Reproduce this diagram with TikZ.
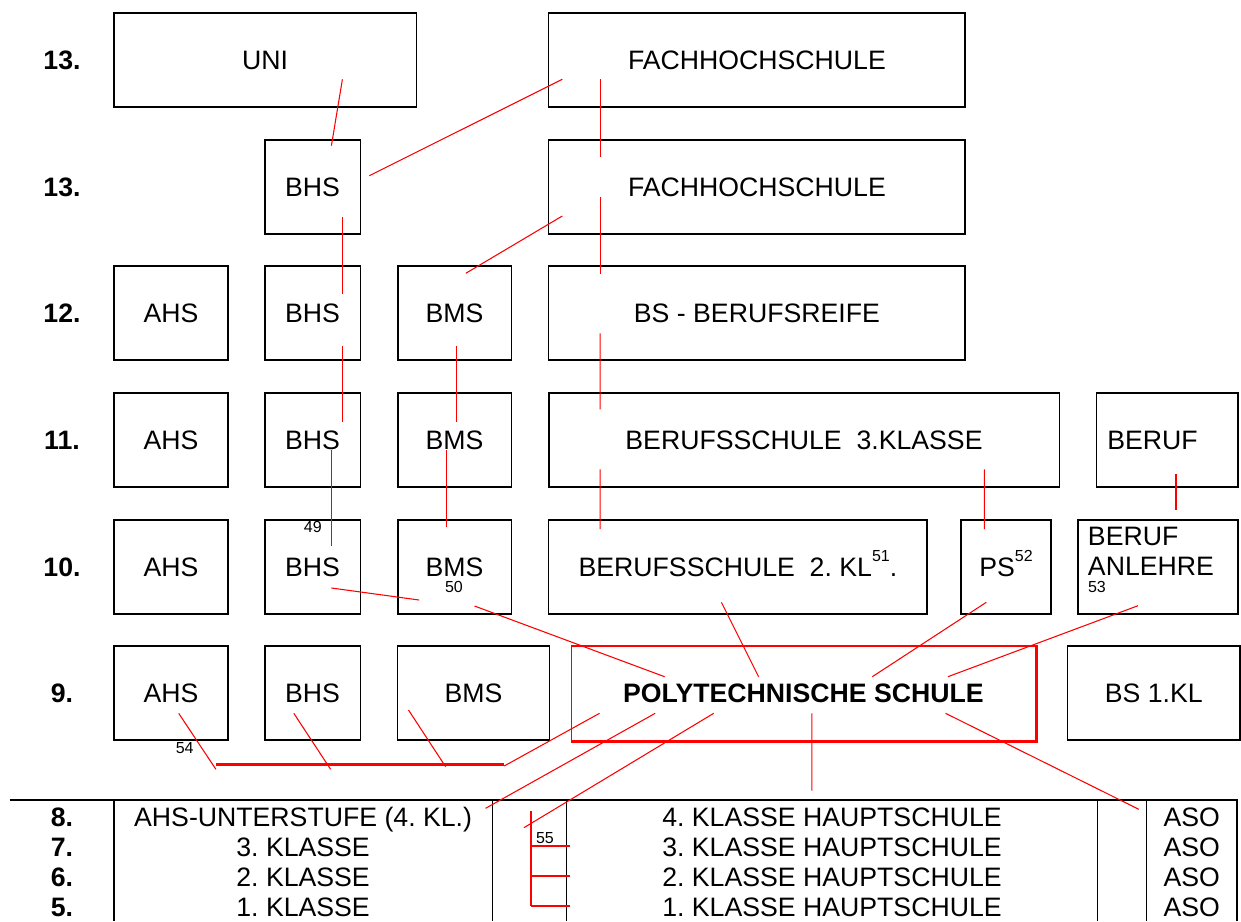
\documentclass[tikz,border=0pt]{standalone}
\usepackage{fontspec}
\setmainfont{Liberation Sans}
\newcommand\supnum[1]{\raisebox{11pt}{\fontsize{12}{12}\selectfont #1}}
\begin{document}
\frenchspacing
\begin{tikzpicture}[x=0.75pt,y=-0.75pt,font=\fontsize{20}{22.5}\selectfont,
 box/.style={draw,line width=1pt,minimum height=70.5pt,text height=14.3pt,text depth=0pt,inner sep=0pt},
 bw/.style={minimum width=#1*0.75pt},
 lbl/.style={font=\fontsize{20}{22.5}\selectfont\bfseries,text height=14.3pt,text depth=0pt,inner sep=0pt},
 cell/.style={text height=14.3pt,text depth=0pt,inner sep=0pt},
 note/.style={font=\fontsize{12}{12}\selectfont,inner sep=0pt},
 conn/.style={red,line width=0.8pt},
 bar/.style={red,line width=1.8pt},
 tbl/.style={line width=1.2pt}]
 \useasboundingbox (0,0) rectangle (1241,921);
 \foreach \n/\t/\y in {a/13/60,b/13/187,12/12/312.9,11/11/439.9,10/10/566.9,9/9/692.9}
  \node[lbl] (r\n) at (62,\y) {\t.};
 \node[box,bw=302.5] (uni) at (265.2,60) {UNI};
 \node[box,bw=416.2] (fh1) at (756.9,60) {FACHHOCHSCHULE};
 \node[box,bw=95.3] (bhs13) at (312.6,187) {BHS};
 \node[box,bw=416.2] (fh2) at (756.9,187) {FACHHOCHSCHULE};
 \foreach \r/\y in {12/312.9,11/439.9,10/566.9}{
  \node[box,bw=114.3] (ahs\r) at (171,\y) {AHS};
  \node[box,bw=95.3] (bhs\r) at (312.6,\y) {BHS};
  \node[box,bw=113.5] (bms\r) at (454.6,\y) {BMS};}
 \node[box,bw=416.2] (bsr) at (756.9,312.9) {BS - BERUFSREIFE};
 \node[box,bw=510.3] (bs3) at (804,439.9) {BERUFSSCHULE\ \ 3.KLASSE};
 \node[box,bw=141.1,text width=90pt,align=left,inner xsep=7.5pt] (beruf) at (1167.3,439.9) {BERUF};
 \node[box,bw=378.2] (bs2) at (737.9,566.9) {BERUFSSCHULE\ \ 2. KL\supnum{51}.};
 \node[box,bw=90] (ps) at (1006,566.9) {PS\supnum{52}};
 \node[box,bw=159.9] (anl) at (1157.9,566.9) {};
 \node[anchor=west,align=left,inner sep=0pt] (anltxt) at (1087.7,551) {BERUF\\ANLEHRE};
 \node[box,bw=114.3] (ahs9) at (171,692.9) {AHS};
 \node[box,bw=95.3] (bhs9) at (312.6,692.9) {BHS};
 \node[box,bw=151.4] (bms9) at (473.5,692.9) {BMS};
 \node[box,draw=red,line width=1.3pt,bw=464,minimum height=71.25pt,font=\fontsize{20}{22.5}\selectfont\bfseries] (pts) at (803.4,693.2) {POLYTECHNISCHE SCHULE};
 \draw[red,line width=2.6pt] (pts.north east) -- (pts.south east) -- (pts.south west);
 \node[box,bw=172.1] (bs1) at (1153.8,692.9) {BS 1.KL};
 \node[note] (n49) at (312.8,526.7) {49};
 \node[note] (n50) at (453.9,587.3) {50};
 \node[note] (n53) at (1096.9,587.3) {53};
 \node[note] (n54) at (184.7,748.3) {54};
 \node[note] (n55) at (544.9,838.3) {55};
 \draw[tbl] (9.5,800) -- (1238,800);
 \foreach \x in {113.9,492.3,566.6,1097.5,1146.6,1237} \draw[tbl] (\x,800) -- (\x,921);
 \foreach \g/\k/\t/\y in {8/4/{AHS-UNTERSTUFE (4. KL.)}/816.7,7/3/3. KLASSE/847.3,6/2/2. KLASSE/877.3,5/1/1. KLASSE/906.7}{
  \node[lbl] (g\g) at (62,\y) {\g.};
  \node[cell] (u\g) at (303.1,\y) {\t};
  \node[cell] (h\g) at (832,\y) {\k. KLASSE HAUPTSCHULE};
  \node[cell] (a\g) at (1191.8,\y) {ASO};}
 \draw[conn] ([shift={(77.2,19.3)}]uni.center) -- ([shift={(18.8,-41.3)}]bhs13.center);
 \draw[conn] ([shift={(-194.6,19.3)}]fh1.center) -- ([shift={(56.7,-11.3)}]bhs13.center);
 \draw[conn] ([shift={(-156.7,19.3)}]fh1.center) -- ([shift={(-156.7,-30.3)}]fh2.center);
 \draw[conn] ([shift={(-194.6,29)}]fh2.center) -- ([shift={(11.2,-39.6)}]bms12.center);
 \draw[conn] ([shift={(-156.7,9.7)}]fh2.center) -- ([shift={(-156.7,-38.9)}]bsr.center);
 \draw[conn] ([shift={(29.8,30)}]bhs13.center) -- ([shift={(29.8,-18.9)}]bhs12.center);
 \draw[conn] ([shift={(29.8,32.8)}]bhs12.center) -- ([shift={(29.8,-17.6)}]bhs11.center);
 \draw[conn] ([shift={(1.7,32.8)}]bms12.center) -- ([shift={(1.7,-17.6)}]bms11.center);
 \draw[conn] ([shift={(-156.7,20.4)}]bsr.center) -- ([shift={(-203.8,-30.6)}]bs3.center);
 \draw[conn] ([shift={(18.8,10.4)}]bhs11.center) -- ([shift={(18.8,-21.2)}]bhs10.center);
 \draw[conn] ([shift={(-7.8,10.4)}]bms11.center) -- ([shift={(-7.8,-39.6)}]bms10.center);
 \draw[conn] ([shift={(-203.8,29.4)}]bs3.center) -- ([shift={(-137.7,-37.9)}]bs2.center);
 \draw[conn] ([shift={(180.3,29.4)}]bs3.center) -- ([shift={(-21.7,-37.9)}]ps.center);
 \draw[conn] ([shift={(8.7,34.4)}]beruf.center) -- ([shift={(18.1,-57.2)}]anl.center);
 \draw[conn] ([shift={(18.8,21.1)}]bhs10.center) -- ([shift={(-35.5,33.1)}]bms10.center);
 \draw[conn] ([shift={(19.9,39.1)}]bms10.center) -- ([shift={(-138.8,-16.5)}]pts.center);
 \draw[conn] ([shift={(-16.5,35.4)}]bs2.center) -- ([shift={(-44.8,-16.5)}]pts.center);
 \draw[conn] ([shift={(-19.7,35.4)}]ps.center) -- ([shift={(68.9,-16.5)}]pts.center);
 \draw[conn] ([shift={(-19.9,38.8)}]anl.center) -- ([shift={(144.5,-16.5)}]pts.center);
 \coordinate (barL) at (215.9,764.3);
 \coordinate (barR) at (504.2,764.3);
 \draw[bar] (barL) -- (barR);
 \draw[conn] ([shift={(7.7,20.4)}]ahs9.center) -- ([shift={(0,5)}]barL);
 \draw[conn] ([shift={(-18.8,20.4)}]bhs9.center) -- ([shift={(114.7,5)}]barL);
 \draw[conn] ([shift={(-65,17.1)}]bms9.center) -- ([shift={(229.7,2.4)}]barL);
 \draw[conn] ([shift={(0,1.7)}]barR) -- ([shift={(-203.9,20.1)}]pts.center);
 \draw[conn] ([shift={(-148.2,20.1)}]pts.center) -- ([shift={(182.5,-8.4)}]u8.center);
 \coordinate (brk) at (531,810.7);
 \draw[conn] ([shift={(-89.7,20.1)}]pts.center) -- ([shift={(-7.1,17)}]brk);
 \draw[conn] ([shift={(8.4,20.1)}]pts.center) -- ([shift={(-20.2,-26)}]h8.center);
 \draw[conn] ([shift={(142.1,20.1)}]pts.center) -- ([shift={(-53,-7.4)}]a8.center);
 \draw[conn] (brk) -- ++(0,95);
 \foreach \d in {35,65.6,95} \draw[bar,line width=1.5pt] ([shift={(0,\d)}]brk) -- ++(38.8,0);
\end{tikzpicture}
\end{document}
